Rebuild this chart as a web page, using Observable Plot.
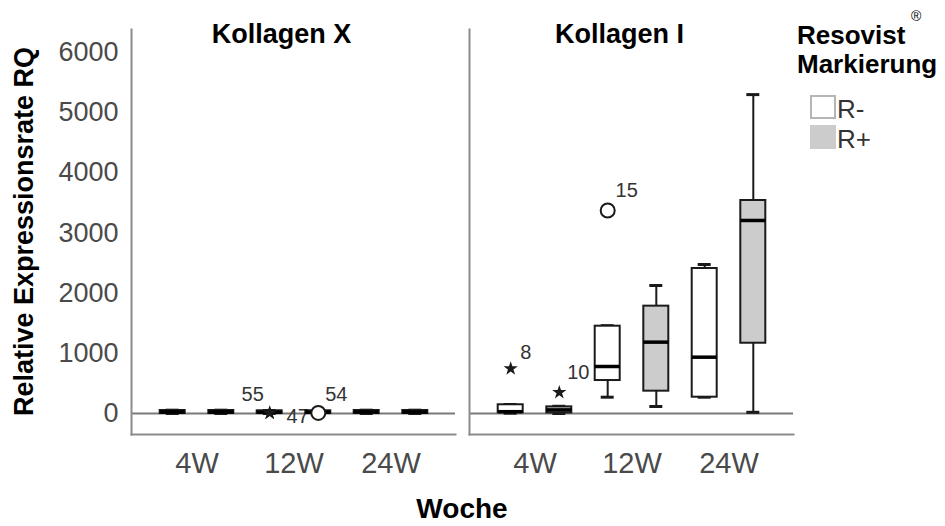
<!DOCTYPE html>
<html>
<head>
<meta charset="utf-8">
<script src="https://cdn.jsdelivr.net/npm/d3@7"></script>
<script src="https://cdn.jsdelivr.net/npm/@observablehq/plot@0.6"></script>
<style>
  body { margin: 0; background: #fff; }
  #wrap { position: relative; width: 945px; height: 526px; }
  #wrap svg { font-family: "Liberation Sans", Arial, sans-serif; }
  #wrap svg g[aria-label^="y-axis"] text { font-size: 27px; fill: #4a4a4a; }
  #wrap svg g[aria-label^="x-axis"] text { font-size: 29px; fill: #4a4a4a; }
</style>
</head>
<body>
<div id="wrap"></div>
<script>
// ---- data ----
const genes  = ["Kollagen X", "Kollagen I"];
const weeks  = ["4W", "12W", "24W"];
const groups = ["R-", "R+"];
const groupFill = ["#ffffff", "#cccccc"];
const yTicks = [0, 1000, 2000, 3000, 4000, 5000, 6000];

// order: for each gene -> 4W R-, 4W R+, 12W R-, 12W R+, 24W R-, 24W R+
const lowWhisker  = [0, 0, 0, 0, 0, 0,       5,   0,  271,  116,  271,   20];
const q1          = [0, 0, 0, 0, 0, 0,      15,  10,  548,  371,  271, 1168];
const median      = [25, 25, 20, 20, 25, 25, 30,  60,  781, 1186,  936, 3208];
const q3          = [50, 50, 45, 45, 50, 50, 145, 110, 1451, 1784, 2410, 3540];
const highWhisker = [55, 55, 50, 50, 55, 55, 150, 120, 1460, 2127, 2476, 5300];

// outliers (case numbers)
const outGene  = ["Kollagen X", "Kollagen X", "Kollagen X", "Kollagen I", "Kollagen I", "Kollagen I"];
const outWeek  = ["12W", "12W", "12W", "4W", "4W", "12W"];
const outGroup = ["R-", "R-", "R+", "R-", "R+", "R-"];
const outValue = [10, 5, 10, 745, 350, 3374];
const outCase  = ["55", "47", "54", "8", "10", "15"];
const outKind  = ["extreme", "extreme", "outlier", "extreme", "extreme", "outlier"];

// ---- build tables ----
const rows = [];
genes.forEach((gene, gi) => weeks.forEach((week, wi) => groups.forEach((group, ki) => {
  const i = gi * 6 + wi * 2 + ki;
  rows.push({gene, week, group, lo: lowWhisker[i], q1: q1[i], med: median[i], q3: q3[i], hi: highWhisker[i]});
})));
const outliers = outCase.map((c, i) => ({gene: outGene[i], week: outWeek[i], group: outGroup[i], value: outValue[i], label: c, kind: outKind[i]}));

// ---- layout ----
const W = 945, H = 526;
const mL = 131, mR = 152, mT = 29, mB = 92;
const facetGap = 14;
const facetW = ((W - mL - mR) - facetGap) / 2;
const padOuter = 0.17;
const bw = facetW / (weeks.length + 2 * padOuter);
const half = bw / 2;
const off = 24.3, boxW = 25, capW = 13;
const ink = "#1a1a1a";
const labelShift = {"55": [-17, -18], "47": [28, 3], "54": [18, -18], "8": [15, -16], "10": [19, -20], "15": [19, -20]};

const marks = [
  Plot.ruleY([0], {stroke: "#7a7a7a", strokeWidth: 2}),
  Plot.frame({anchor: "left", stroke: "#8c8c8c", strokeWidth: 2}),
  Plot.frame({anchor: "bottom", stroke: "#8c8c8c", strokeWidth: 2}),
  Plot.text(genes, {fx: d => d, text: d => d, frameAnchor: "top", lineAnchor: "bottom", dy: 13, dx: -12,
    fontSize: 27, fontWeight: "bold", fill: "#000"})
];

groups.forEach((g, k) => {
  const s = k === 0 ? -1 : 1;
  const sub = rows.filter(d => d.group === g);
  const inset = (w) => {
    const l = half + s * off - w / 2;
    return {insetLeft: l, insetRight: bw - l - w};
  };
  marks.push(
    Plot.ruleX(sub, {fx: "gene", x: "week", y1: "lo", y2: "q1", dx: s * off, stroke: ink, strokeWidth: 2}),
    Plot.ruleX(sub, {fx: "gene", x: "week", y1: "q3", y2: "hi", dx: s * off, stroke: ink, strokeWidth: 2}),
    Plot.tickY(sub, {fx: "gene", x: "week", y: "lo", stroke: ink, strokeWidth: 3, ...inset(capW)}),
    Plot.tickY(sub, {fx: "gene", x: "week", y: "hi", stroke: ink, strokeWidth: 3, ...inset(capW)}),
    Plot.barY(sub, {fx: "gene", x: "week", y1: "q1", y2: "q3", fill: "group", stroke: ink, strokeWidth: 2, ...inset(boxW)}),
    Plot.tickY(sub, {fx: "gene", x: "week", y: "med", stroke: "#000", strokeWidth: 3.5, ...inset(boxW)})
  );
  const os = outliers.filter(d => d.group === g);
  marks.push(
    Plot.dot(os.filter(d => d.kind === "outlier"), {fx: "gene", x: "week", y: "value", dx: s * off, r: 7,
      symbol: "circle", fill: "white", stroke: ink, strokeWidth: 2}),
    Plot.dot(os.filter(d => d.kind === "extreme"), {fx: "gene", x: "week", y: "value", dx: s * off, r: 4.5,
      symbol: "star", fill: ink, stroke: "none"})
  );
  os.forEach(o => {
    const [ox, oy] = labelShift[o.label] || [15, -15];
    marks.push(Plot.text([o], {fx: "gene", x: "week", y: "value", text: "label", dx: s * off + ox, dy: oy,
      fontSize: 20, fill: "#333"}));
  });
});

const chart = Plot.plot({
  width: W, height: H,
  marginLeft: mL, marginRight: mR, marginTop: mT, marginBottom: mB,
  style: {fontFamily: "Liberation Sans, Arial, sans-serif", background: "white", overflow: "visible"},
  fx: {domain: genes, paddingInner: facetGap / (facetW + facetGap), paddingOuter: 0, axis: null, label: null},
  x: {domain: weeks, paddingInner: 0, paddingOuter: padOuter, label: null, tickSize: 0, tickPadding: 18},
  y: {domain: [-349, 6382], ticks: yTicks, tickFormat: d => String(d), tickSize: 0, tickPadding: 13, label: null},
  color: {domain: groups, range: groupFill},
  marks
});
document.getElementById("wrap").appendChild(chart);

// ---- axis titles and legend ----
const svg = d3.select(chart.tagName.toLowerCase() === "svg" ? chart : chart.querySelector("svg"));
const ff = "Liberation Sans, Arial, sans-serif";
svg.append("text").attr("transform", `translate(33,${(mT + (H - mB)) / 2}) rotate(-90)`)
  .attr("text-anchor", "middle").attr("font-family", ff).attr("font-size", 27).attr("font-weight", "bold")
  .attr("fill", "#000").text("Relative Expressionsrate RQ");
svg.append("text").attr("x", 462).attr("y", 518).attr("text-anchor", "middle")
  .attr("font-family", ff).attr("font-size", 28).attr("font-weight", "bold").attr("fill", "#000").text("Woche");
const leg = svg.append("g").attr("font-family", ff).attr("text-anchor", "start");
leg.append("text").attr("x", 797).attr("y", 44).attr("font-size", 26).attr("font-weight", "bold").attr("fill", "#000").text("Resovist");
leg.append("text").attr("x", 911).attr("y", 21).attr("font-size", 14).attr("fill", "#000").text("®");
leg.append("text").attr("x", 797).attr("y", 73).attr("font-size", 26).attr("font-weight", "bold").attr("fill", "#000").text("Markierung");
groups.forEach((g, i) => {
  leg.append("rect").attr("x", 811).attr("y", 96 + i * 30).attr("width", 24).attr("height", 22)
    .attr("fill", groupFill[i]).attr("stroke", i === 0 ? "#b5b5b5" : groupFill[i]).attr("stroke-width", 2);
  leg.append("text").attr("x", 837).attr("y", 118 + i * 30).attr("font-size", 26).attr("fill", "#333").text(g);
});
</script>
</body>
</html>
